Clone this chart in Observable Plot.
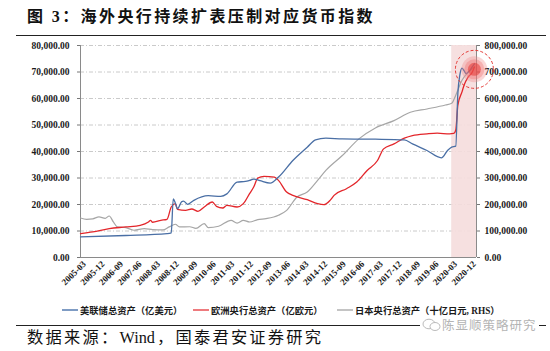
<!DOCTYPE html>
<html><head><meta charset="utf-8">
<script src="https://cdn.jsdelivr.net/npm/d3@7"></script>
<script src="https://cdn.jsdelivr.net/npm/@observablehq/plot@0.6"></script>
<style>
body{margin:0;background:#fff;}
#wrap{position:relative;width:550px;height:351px;overflow:hidden;background:#fff;}
#chart{position:absolute;left:0;top:0;}
.title{position:absolute;left:27px;top:6px;line-height:22px;font-family:"Liberation Serif","Noto Sans CJK SC",serif;font-weight:bold;font-size:16px;letter-spacing:2.4px;color:#111;white-space:nowrap;}
.rule{position:absolute;left:16px;width:530px;height:0;border-top:1.6px solid #222;}
.leg{position:absolute;top:303px;height:14px;display:flex;align-items:center;white-space:nowrap;font-family:"Liberation Serif","Noto Sans CJK SC",serif;font-weight:bold;font-size:9.3px;color:#1a1a1a;}
.leg i{display:inline-block;width:16px;height:0;border-top:2px solid;margin-right:2px;}
.source{position:absolute;left:27px;top:327px;line-height:22px;font-family:"Liberation Serif","Noto Sans CJK SC",serif;font-size:16.3px;letter-spacing:2.2px;color:#111;white-space:nowrap;}
.source span{letter-spacing:0;margin-right:2px;}
.wm{position:absolute;left:420px;top:316px;line-height:18px;background:#fff;padding:0 2px;font-family:"Noto Sans CJK SC",sans-serif;font-size:12.5px;letter-spacing:1px;color:#b4b4b4;white-space:nowrap;display:flex;align-items:center;}
</style>
</head><body>
<div id="wrap">
  <div class="title">图 3：海外央行持续扩表压制对应货币指数</div>
  <div class="rule" style="top:34.5px"></div>
  <div id="chart"></div>
  <div class="leg" style="left:62px"><i style="border-color:#7f9cc4"></i>美联储总资产（亿美元）</div>
  <div class="leg" style="left:193px"><i style="border-color:#ee7b7e"></i>欧洲央行总资产（亿欧元）</div>
  <div class="leg" style="left:337px"><i style="border-color:#c4c4c4"></i>日本央行总资产（十亿日元, RHS）</div>
  <div class="rule" style="top:325px"></div>
  <div class="wm"><svg width="20" height="14" viewBox="0 0 20 14"><ellipse cx="7" cy="6" rx="6" ry="4.8" fill="none" stroke="#bbb" stroke-width="1"/><ellipse cx="13" cy="8.5" rx="5" ry="4" fill="#fff" stroke="#bbb" stroke-width="1"/></svg>陈显顺策略研究</div>
  <div class="source">数据来源：<span>Wind</span>，国泰君安证券研究</div>
</div>
<script>
// ---- data ----
const xTickLabels = ["2005-03","2005-12","2006-09","2007-06","2008-03","2008-12","2009-09","2010-06","2011-03","2011-12","2012-09","2013-06","2014-03","2014-12","2015-09","2016-06","2017-03","2017-12","2018-09","2019-06","2020-03","2020-12"];
const yTicksLeft = [0,10000,20000,30000,40000,50000,60000,70000,80000];

const fedDates = ["2005-01","2006-11","2008-07","2008-09","2008-10","2008-11","2008-12","2009-02","2009-03","2009-05","2009-08","2010-03","2010-09","2010-12","2011-05","2011-09","2011-11","2012-01","2012-04","2012-09","2013-01","2013-08","2014-03","2014-07","2014-12","2015-08","2016-12","2018-02","2018-06","2019-01","2019-08","2019-11","2020-01","2020-03","2020-04","2020-05","2020-06","2020-07","2020-08","2020-09","2020-10","2020-11","2020-12"];
const fedValues = [7770,8300,9030,9300,22070,20500,18400,21000,21300,20060,21570,23320,23070,24000,28460,28700,29090,29600,29000,28090,30345,36610,41630,44390,45020,44760,44640,44390,42880,40380,37620,40380,41630,42000,62000,69000,71500,70500,69400,70000,70800,72000,73100];

const ecbDates = ["2005-01","2005-07","2006-03","2006-11","2007-06","2007-10","2007-11","2007-12","2008-04","2008-07","2008-09","2008-11","2008-12","2009-04","2009-07","2009-10","2010-01","2010-05","2010-07","2010-10","2010-12","2011-05","2011-08","2011-11","2012-01","2012-03","2012-06","2012-11","2013-01","2013-05","2013-08","2014-03","2014-08","2014-11","2015-02","2015-04","2015-10","2016-03","2016-08","2017-01","2017-04","2017-09","2018-02","2018-06","2019-01","2019-06","2019-12","2020-02","2020-03","2020-04","2020-06","2020-07","2020-09","2020-11","2020-12"];
const ecbValues = [9030,9650,10900,11540,12160,13420,14040,13300,14040,14420,19060,20310,18180,17800,18300,17430,19060,20940,19300,18680,19690,19060,20310,24080,26580,29970,30600,30350,29090,24700,23450,21820,20310,19940,21570,23450,25960,28460,32850,36610,41000,42880,45020,46020,46650,46900,46650,46800,48125,57500,62500,65000,68125,70000,71875];

// BOJ in 十亿日元 (right axis)
const bojDates = ["2005-01","2005-04","2005-07","2005-10","2006-01","2006-03","2006-05","2006-07","2006-11","2007-03","2007-08","2007-12","2008-05","2008-08","2008-11","2009-01","2009-06","2009-09","2010-01","2010-03","2010-08","2011-02","2011-05","2011-08","2011-11","2012-03","2012-07","2013-01","2013-05","2013-10","2014-03","2014-08","2014-12","2015-08","2016-04","2016-12","2017-09","2018-05","2019-01","2019-10","2020-01","2020-03","2020-06","2020-09","2020-12"];
const bojValues = [149200,144200,146000,153000,148000,156700,134200,115400,112900,102800,109000,105300,104000,115400,125400,115400,116000,110000,127900,113000,117900,140400,130000,140400,134000,143000,146700,159200,178000,228200,247000,290900,328500,384900,447600,489000,516600,548000,560500,575500,581800,612500,668750,700000,718750];

const seriesNames = ["美联储总资产（亿美元）","欧洲央行总资产（亿欧元）","日本央行总资产（十亿日元, RHS）"];
const domainStart = "2005-01", domainEnd = "2021-01";
const shadeStart = "2020-01";
const highlight = {date:"2020-12", value:71000};

// ---- build ----
const parse = d3.utcParse("%Y-%m");
const fed = fedDates.map((d,i)=>({date:parse(d), value:fedValues[i]}));
const ecb = ecbDates.map((d,i)=>({date:parse(d), value:ecbValues[i]}));
const boj = bojDates.map((d,i)=>({date:parse(d), value:bojValues[i]/10})); // plotted on left scale
const fmt = d3.format(",.2f");
const x0 = parse(domainStart), x1 = parse(domainEnd);
const hl = [{date:parse(highlight.date), value:highlight.value}];

const chart = Plot.plot({
  width:550, height:300,
  marginLeft:80, marginRight:74, marginTop:45, marginBottom:43,
  x:{type:"utc", domain:[x0,x1]},
  y:{domain:[0,80000]},
  style:{fontFamily:'"Liberation Serif", serif', fontSize:"9.5px", fontWeight:"bold", color:"#1a1a1a", background:"transparent", overflow:"visible"},
  marks:[
    Plot.gridY(yTicksLeft.slice(1), {stroke:"#bdbdbd", strokeOpacity:1, strokeWidth:0.8, strokeDasharray:"4,2,1,2"}),
    Plot.rect([{a:parse(shadeStart), b:x1}], {x1:"a", x2:"b", y1:0, y2:80000, fill:"#f5dddd", fillOpacity:0.9}),
    Plot.ruleX([x0, x1], {stroke:"#8a8a8a", strokeWidth:1}),
    Plot.ruleY([0], {stroke:"#8a8a8a", strokeWidth:1}),
    Plot.axisY({anchor:"left", ticks:yTicksLeft, tickFormat:fmt, tickSize:3, tickPadding:8, label:null, stroke:"#777"}),
    Plot.axisY({anchor:"right", ticks:yTicksLeft, tickFormat:d=>fmt(d*10), tickSize:3, tickPadding:5, label:null, stroke:"#777"}),
    Plot.axisX({ticks:xTickLabels.map(parse), tickFormat:d3.utcFormat("%Y-%m"), tickRotate:-45, tickSize:0, tickPadding:5, label:null, fontSize:9}),
    Plot.line(boj, {x:"date", y:"value", stroke:"#a6a6a6", strokeWidth:1.2, curve:"monotone-x"}),
    Plot.line(ecb, {x:"date", y:"value", stroke:"#e3262b", strokeWidth:1.3, curve:"monotone-x"}),
    Plot.line(fed, {x:"date", y:"value", stroke:"#4a6fa5", strokeWidth:1.3, curve:"monotone-x"}),
    Plot.dot(hl, {x:"date", y:"value", r:13, fill:"#f08a8a", fillOpacity:0.35, stroke:null}),
    Plot.dot(hl, {x:"date", y:"value", r:10, fill:"#ee6b6b", fillOpacity:0.35, stroke:null}),
    Plot.dot(hl, {x:"date", y:"value", r:6.5, fill:"#e53935", fillOpacity:0.55, stroke:null}),
    Plot.dot(hl, {x:"date", y:"value", r:19, fill:"none", stroke:"#e53935", strokeWidth:1, strokeDasharray:"3,2"})
  ]
});
document.getElementById("chart").appendChild(chart);
</script>
</body></html>
